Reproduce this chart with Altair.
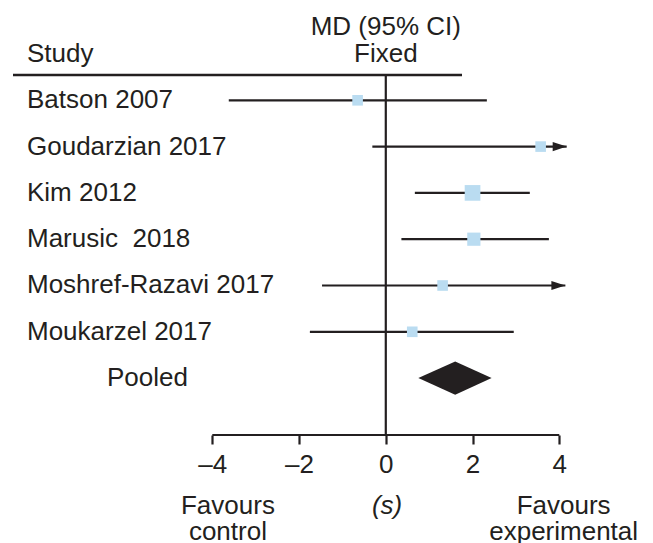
import altair as alt
import pandas as pd

# ---- data ----
studies = ["Batson 2007", "Goudarzian 2017", "Kim 2012", "Marusic\u00a0\u00a02018",
           "Moshref-Razavi 2017", "Moukarzel 2017"]
rows = [1, 2, 3, 4, 5, 6]
md = [-0.65, 3.57, 2.0, 2.03, 1.31, 0.61]
ci_low = [-3.62, -0.31, 0.67, 0.36, -1.47, -1.75]
ci_high = [2.33, 4.17, 3.32, 3.76, 4.14, 2.95]
arrow = [False, True, False, False, True, False]
weights = [11, 11, 24, 17, 11, 11]

pooled_row = 7
pooled_md = 1.6
pooled_low = 0.75
pooled_high = 2.44
pooled_half = 0.36

tick_values = [-4, -2, 0, 2, 4]

INK = "#231f20"
SQ = "#badcf1"
FONT = "Liberation Sans"
FS = 26

studies_df = pd.DataFrame({
    "study": studies, "row": rows, "md": md,
    "lo": ci_low, "hi": ci_high, "arrow": arrow, "w": weights,
})
arrow_df = studies_df[studies_df["arrow"]]

diamond_df = pd.DataFrame({
    "x": [pooled_low, pooled_md, pooled_high],
    "top": [pooled_row, pooled_row - pooled_half, pooled_row],
    "bot": [pooled_row, pooled_row + pooled_half, pooled_row],
})

xscale = alt.Scale(domain=[-8.71, 5.976], nice=False, zero=False)
yscale = alt.Scale(domain=[-0.9935, 8.229], reverse=True, nice=False, zero=False)

base = alt.Chart(studies_df)

X = alt.X("lo:Q", scale=xscale,
          axis=alt.Axis(values=tick_values, domain=False, grid=False,
                        ticks=True, tickSize=9, tickWidth=2.2, tickColor=INK,
                        labelFontSize=FS, labelFont=FONT, labelColor=INK,
                        labelPadding=7, title=None,
                        labelExpr="datum.value < 0 ? '\u2013' + abs(datum.value) : '' + datum.value"))
Y = alt.Y("row:Q", scale=yscale, axis=None)

ci = base.mark_rule(color=INK, strokeWidth=2.2).encode(x=X, x2="hi:Q", y=Y)

heads = alt.Chart(arrow_df).mark_point(
    shape="M-1,-0.65L1,0L-1,0.65Z", filled=True, color=INK, opacity=1,
    size=196, xOffset=-7, strokeWidth=0
).encode(x=alt.X("hi:Q", scale=xscale), y=alt.Y("row:Q", scale=yscale))

squares = base.mark_square(color=SQ, opacity=1, filled=True).encode(
    x=alt.X("md:Q", scale=xscale),
    y=alt.Y("row:Q", scale=yscale),
    size=alt.Size("w:Q", scale=alt.Scale(domain=[0, 24], range=[0, 246]), legend=None),
)

diamond = alt.Chart(diamond_df).mark_area(color=INK, opacity=1).encode(
    x=alt.X("x:Q", scale=xscale),
    y=alt.Y("top:Q", scale=yscale),
    y2="bot:Q",
)

labels = base.mark_text(align="left", baseline="middle", font=FONT,
                        fontSize=FS, color=INK).encode(
    x=alt.value(19), y=alt.Y("row:Q", scale=yscale), text="study:N")

pooled_label = alt.Chart(pd.DataFrame({"t": ["Pooled"], "row": [pooled_row]})).mark_text(
    align="left", baseline="middle", font=FONT, fontSize=FS, color=INK
).encode(x=alt.value(99), y=alt.Y("row:Q", scale=yscale), text="t:N")

zero_line = alt.Chart(pd.DataFrame({"x": [0]})).mark_rule(color=INK, strokeWidth=2.2).encode(
    x=alt.X("x:Q", scale=xscale), y=alt.value(67), y2=alt.value(427))

header_line = alt.Chart(pd.DataFrame({"a": [0]})).mark_rule(color=INK, strokeWidth=2.6).encode(
    x=alt.value(5), x2=alt.value(454), y=alt.value(67))

axis_line = alt.Chart(pd.DataFrame({"a": [tick_values[0]], "b": [tick_values[-1]]})).mark_rule(
    color=INK, strokeWidth=2.2).encode(
    x=alt.X("a:Q", scale=xscale), x2="b:Q", y=alt.value(427))

# header texts (pixel y)
hdr_df = pd.DataFrame({
    "t": ["MD (95% CI)", "Fixed"],
    "x": [0, 0],
    "py": [27, 54],
})
hdr = alt.Chart(hdr_df).mark_text(align="center", baseline="alphabetic", font=FONT,
                                  fontSize=FS, color=INK).encode(
    x=alt.X("x:Q", scale=xscale), y=alt.Y("py:Q", scale=None), text="t:N")

study_hdr = alt.Chart(pd.DataFrame({"t": ["Study"]})).mark_text(
    align="left", baseline="alphabetic", font=FONT, fontSize=FS, color=INK
).encode(x=alt.value(19), y=alt.value(54), text="t:N")

# bottom annotations
bot_df = pd.DataFrame({
    "t": ["Favours", "control", "Favours", "experimental"],
    "x": [-3.64, -3.64, 4.1, 4.1],
    "py": [506, 532, 506, 532],
})
bottom = alt.Chart(bot_df).mark_text(align="center", baseline="alphabetic", font=FONT,
                                     fontSize=FS, color=INK).encode(
    x=alt.X("x:Q", scale=xscale), y=alt.Y("py:Q", scale=None), text="t:N")

unit = alt.Chart(pd.DataFrame({"t": ["(s)"], "x": [0.03], "py": [506]})).mark_text(
    align="center", baseline="alphabetic", font=FONT, fontSize=FS, fontStyle="italic", color=INK
).encode(x=alt.X("x:Q", scale=xscale), y=alt.Y("py:Q", scale=None), text="t:N")

chart = alt.layer(
    header_line, zero_line, ci, heads, squares, diamond, axis_line,
    labels, pooled_label, hdr, study_hdr, bottom, unit,
).properties(
    width=637, height=427,
    padding={"left": 0, "top": 0, "right": 0, "bottom": 108},
    autosize=alt.AutoSizeParams(type="none"),
    background="white",
).configure_view(stroke=None, strokeWidth=0)

chart.save("out.html", embed_options={"renderer": "svg", "actions": False})
